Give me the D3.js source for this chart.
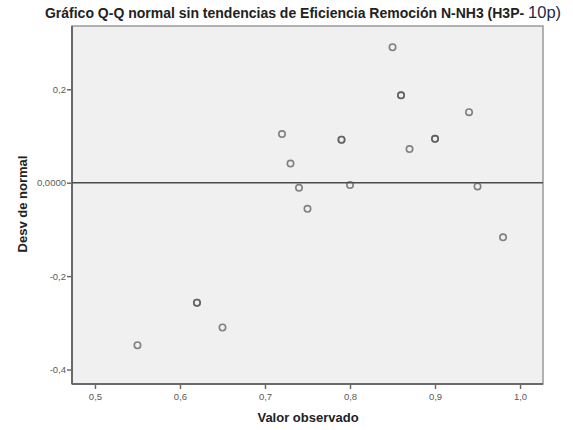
<!DOCTYPE html>
<html>
<head>
<meta charset="utf-8">
<script src="https://cdn.jsdelivr.net/npm/d3@7"></script>
<style>
  html, body { margin: 0; padding: 0; background: #ffffff; }
  svg { display: block; }
</style>
</head>
<body>
<div id="chart"></div>
<script>
// Detrended normal Q-Q: observed value vs deviation from normal
const observed = [0.55, 0.62, 0.62, 0.65, 0.72, 0.73, 0.74, 0.75, 0.79, 0.79,
                  0.80, 0.85, 0.86, 0.86, 0.87, 0.90, 0.90, 0.94, 0.95, 0.98];
const deviation = [-0.348, -0.257, -0.257, -0.310, 0.104, 0.041, -0.011, -0.056, 0.092, 0.092,
                   -0.005, 0.290, 0.187, 0.187, 0.072, 0.094, 0.094, 0.151, -0.008, -0.117];
const xTicks = [0.5, 0.6, 0.7, 0.8, 0.9, 1.0];
const xTickLabels = ["0,5", "0,6", "0,7", "0,8", "0,9", "1,0"];
const yTicks = [0.2, 0.0, -0.2, -0.4];
const yTickLabels = ["0,2", "0,0000", "-0,2", "-0,4"];

const W = 573, H = 430;
const plotLeft = 72, plotRight = 543, plotTop = 26, plotBottom = 384;

const svg = d3.select("#chart").append("svg")
  .attr("width", W).attr("height", H);

const x = d3.scaleLinear().domain([0.473, 1.027]).range([plotLeft, plotRight]);
const y = d3.scaleLinear().domain([-0.431, 0.3355]).range([plotBottom, plotTop]);

// plot background and frame
svg.append("rect")
  .attr("x", plotLeft).attr("y", plotTop)
  .attr("width", plotRight - plotLeft).attr("height", plotBottom - plotTop)
  .attr("fill", "#f0f0f0")
  .attr("stroke", "#9a9a9a").attr("stroke-width", 1.5);

// axes
const fontFam = "'Liberation Sans', Arial, sans-serif";
const xAxis = d3.axisBottom(x).tickValues(xTicks)
  .tickFormat((d, i) => xTickLabels[i]).tickSize(5).tickSizeOuter(0);
const yAxis = d3.axisLeft(y).tickValues(yTicks)
  .tickFormat((d, i) => yTickLabels[i]).tickSize(5).tickSizeOuter(0);

const gx = svg.append("g").attr("transform", `translate(0,${plotBottom})`).call(xAxis);
const gy = svg.append("g").attr("transform", `translate(${plotLeft},0)`).call(yAxis);
[gx, gy].forEach(g => {
  g.select(".domain").attr("stroke", "#6a6a6a").attr("stroke-width", 2);
  g.selectAll(".tick line").attr("stroke", "#6a6a6a").attr("stroke-width", 1.5);
  g.selectAll(".tick text")
    .attr("fill", "#5a5a5a")
    .style("font-family", fontFam)
    .style("font-size", "9.5px");
});
gx.select(".domain").attr("d", `M${plotLeft},0H${plotRight}`);
gy.select(".domain").attr("d", `M0,${plotTop}V${plotBottom}`);
gx.selectAll(".tick text").attr("dy", "0.9em").attr("y", 7);
gy.selectAll(".tick text").attr("x", -6);

// reference line at zero deviation
svg.append("line")
  .attr("x1", plotLeft).attr("x2", plotRight)
  .attr("y1", y(0)).attr("y2", y(0))
  .attr("stroke", "#4a4a4a").attr("stroke-width", 1.5);

// points (open circles; coincident points read darker)
svg.append("g").selectAll("circle")
  .data(observed.map((v, i) => [v, deviation[i]]))
  .join("circle")
  .attr("cx", d => x(d[0]))
  .attr("cy", d => y(d[1]))
  .attr("r", 3.2)
  .attr("fill", "none")
  .attr("stroke", "#555")
  .attr("stroke-opacity", 0.72)
  .attr("stroke-width", 1.6);

// title
const title = svg.append("text")
  .attr("x", 303).attr("y", 18)
  .attr("text-anchor", "middle")
  .style("font-family", fontFam)
  .style("font-size", "14px")
  .style("font-weight", "bold")
  .attr("fill", "#222");
title.append("tspan").text("Gráfico Q-Q normal sin tendencias de Eficiencia Remoción N-NH3 (H3P- ");
title.append("tspan").text("10p)")
  .style("font-size", "16.5px").style("font-weight", "normal").attr("fill", "#1f2a44");

// axis titles
svg.append("text")
  .attr("x", 308).attr("y", 422)
  .attr("text-anchor", "middle")
  .style("font-family", fontFam)
  .style("font-size", "13px")
  .style("font-weight", "bold")
  .attr("fill", "#222")
  .text("Valor observado");

svg.append("text")
  .attr("transform", `translate(27,204) rotate(-90)`)
  .attr("text-anchor", "middle")
  .style("font-family", fontFam)
  .style("font-size", "13px")
  .style("font-weight", "bold")
  .attr("fill", "#222")
  .text("Desv de normal");
</script>
</body>
</html>
